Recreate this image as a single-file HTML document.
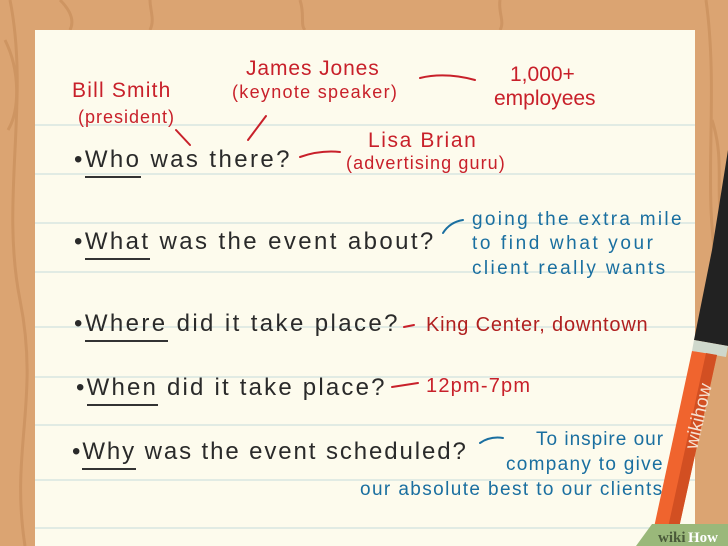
<!DOCTYPE html>
<html><head><style>
body{margin:0;width:728px;height:546px;overflow:hidden;position:relative;background:#dba472;font-family:"Liberation Sans",sans-serif}
.t{position:absolute;white-space:nowrap;line-height:1}
.k{color:#2a2a2a;font-size:24px;letter-spacing:2.4px}
.r{color:#c8202a;font-size:21px;letter-spacing:1.2px}
.rs{color:#c8202a;font-size:18px;letter-spacing:1px}
.b{color:#1a6fa0;font-size:19px;letter-spacing:1.8px}
u{text-decoration:none;border-bottom:2px solid #333;padding-bottom:3px}
</style></head><body>
<svg width="728" height="546" style="position:absolute;left:0;top:0">
 <g stroke="#c98f5c" stroke-width="3" fill="none" opacity="0.7">
  <path d="M10 0 C30 100 0 200 20 300 S10 450 25 546"/>
  <path d="M5 40 C20 70 20 110 8 130"/>
  <path d="M706 0 C720 100 700 200 720 280"/>
  <path d="M712 120 C725 160 715 190 722 220"/>
  <path d="M60 0 C70 10 75 20 70 30"/><path d="M150 0 C150 10 155 20 150 30"/><path d="M300 0 C305 15 300 25 305 30"/><path d="M500 0 C498 12 505 22 500 30"/>
 </g>
 <rect x="35" y="30" width="660" height="530" fill="#fdfbed"/>
 <g stroke="#d8e6e2" stroke-width="1.5">
  <line x1="35" y1="125" x2="695" y2="125"/><line x1="35" y1="174" x2="695" y2="174"/>
  <line x1="35" y1="223" x2="695" y2="223"/><line x1="35" y1="272" x2="695" y2="272"/>
  <line x1="35" y1="327" x2="695" y2="327"/><line x1="35" y1="377" x2="695" y2="377"/>
  <line x1="35" y1="425" x2="695" y2="425"/><line x1="35" y1="480" x2="695" y2="480"/>
  <line x1="35" y1="528" x2="695" y2="528"/>
 </g>
 <g stroke="#c8202a" stroke-width="2" fill="none" stroke-linecap="round">
  <path d="M176 130 L190 145"/><path d="M248 140 L266 116"/><path d="M420 78 Q445 72 475 80"/><path d="M300 157 Q320 150 340 152"/>
  <path d="M404 327 L414 325"/><path d="M392 387 L418 383"/>
 </g>
 <g stroke="#1a6fa0" stroke-width="2" fill="none" stroke-linecap="round">
  <path d="M443 233 Q450 222 463 220"/><path d="M480 443 Q490 436 503 438"/>
 </g>
 <!-- marker -->
 <polygon points="694,340 712,250 728,150 728,346" fill="#222"/>
 <polygon points="694,340 728,346 726,357 692,351" fill="#cfd8cc"/>
 <polygon points="692,351 717,355 675,546 650,546" fill="#f0642e"/>
 <polygon points="706,353 717,355 675,546 664,546" fill="#d24f22"/>
 <text x="0" y="0" transform="translate(697,450) rotate(-77)" fill="#f6e0d0" font-size="19" font-family="Liberation Sans">wikihow</text>
 <polygon points="636,546 652,524 728,524 728,546" fill="#9ab87a"/>
 <text x="658" y="542" fill="#4a5a3a" font-size="15" font-weight="bold" font-family="Liberation Serif">wiki</text>
 <text x="688" y="542" fill="#fff" font-size="15" font-weight="bold" font-family="Liberation Serif">How</text>
</svg>
<div class="t r" style="left:72px;top:80px">Bill Smith</div>
<div class="t rs" style="left:78px;top:108px">(president)</div>
<div class="t r" style="left:246px;top:58px;letter-spacing:0.9px">James Jones</div>
<div class="t rs" style="left:232px;top:83px;letter-spacing:1.3px">(keynote speaker)</div>
<div class="t r" style="left:510px;top:64px;letter-spacing:0">1,000+</div>
<div class="t r" style="left:494px;top:88px;letter-spacing:0">employees</div>
<div class="t r" style="left:368px;top:130px;letter-spacing:1.6px">Lisa Brian</div>
<div class="t rs" style="left:346px;top:154px;letter-spacing:1.1px">(advertising guru)</div>

<div class="t k" style="left:74px;top:148px">•<u>Who</u> was there?</div>
<div class="t k" style="left:74px;top:230px">•<u>What</u> was the event about?</div>
<div class="t k" style="left:74px;top:312px">•<u>Where</u> did it take place?</div>
<div class="t k" style="left:76px;top:376px;letter-spacing:2.2px">•<u>When</u> did it take place?</div>
<div class="t k" style="left:72px;top:440px;letter-spacing:1.9px">•<u>Why</u> was the event scheduled?</div>

<div class="t b" style="left:472px;top:210px;letter-spacing:2.3px">going the extra mile</div>
<div class="t b" style="left:472px;top:234px;letter-spacing:2.6px">to find what your</div>
<div class="t b" style="left:472px;top:259px;letter-spacing:2.4px">client really wants</div>
<div class="t r" style="left:426px;top:315px;font-size:20px;color:#b02020;letter-spacing:0.8px">King Center, downtown</div>
<div class="t r" style="left:426px;top:376px;font-size:20px;letter-spacing:1.2px">12pm-7pm</div>
<div class="t b" style="left:536px;top:430px;letter-spacing:1px">To inspire our</div>
<div class="t b" style="left:506px;top:455px;letter-spacing:1.3px">company to give</div>
<div class="t b" style="left:360px;top:480px;letter-spacing:1.4px">our absolute best to our clients</div>
</body></html>
